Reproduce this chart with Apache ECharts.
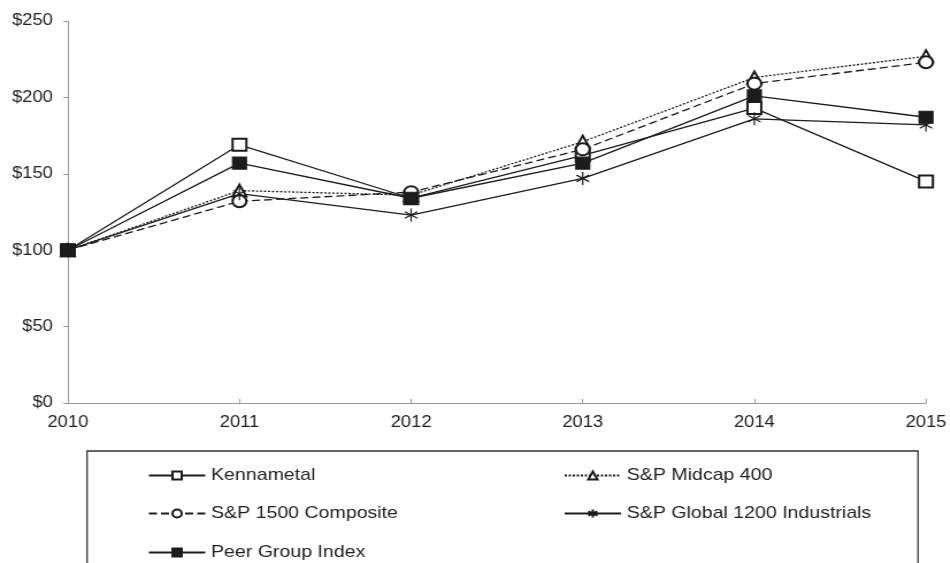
<!DOCTYPE html>
<html>
<head>
<meta charset="utf-8">
<script src="https://cdn.jsdelivr.net/npm/echarts@6/dist/echarts.min.js"></script>
<style>
html,body{margin:0;padding:0;background:#fff;overflow:hidden;}
#chart{width:826px;height:563px;transform:scaleX(1.15);transform-origin:0 0;}
</style>
</head>
<body>
<div id="chart"></div>
<script>
// ---- data ----
const years = ['2010', '2011', '2012', '2013', '2014', '2015'];
const kennametal = [100, 169, 134, 162, 193, 145];
const midcap400 = [100, 139, 136, 171, 213, 227];
const sp1500 = [100, 132, 138, 166, 209, 223];
const global1200 = [100, 137, 123, 147, 186, 182];
const peerGroup = [100, 157, 134, 157, 201, 187];
const seriesNames = ['Kennametal', 'S&P Midcap 400', 'S&P 1500 Composite', 'S&P Global 1200 Industrials', 'Peer Group Index'];

const ink = '#1c1c1c';
const font = "'Liberation Sans', Arial, sans-serif";
const asterisk = 'path://M6,0L6,12M1,3L11,9M1,9L11,3';

function mk(name, data, symbol, lineType, size) {
  return {
    name: name, type: 'line', data: data,
    symbol: symbol, symbolSize: size, symbolKeepAspect: true,
    showAllSymbol: true,
    lineStyle: {color: ink, width: 1.3, type: lineType},
    itemStyle: {color: ink, borderColor: ink, borderWidth: 1.2},
    emphasis: {disabled: true},
    animation: false
  };
}

function lg(name, left, top) {
  return {
    data: [name], left: left, top: top,
    itemWidth: 49, itemHeight: 10,
    selectedMode: false,
    textStyle: {fontSize: 17, color: '#222', fontFamily: font}
  };
}

const chart = echarts.init(document.getElementById('chart'));
chart.setOption({
  backgroundColor: '#fff',
  animation: false,
  grid: {left: 59, top: 21, width: 748, height: 382, containLabel: false},
  xAxis: {
    type: 'category', data: years, boundaryGap: false,
    axisLine: {lineStyle: {color: '#9a9a9a', width: 1}},
    axisTick: {inside: true, length: 4, lineStyle: {color: '#9a9a9a'}},
    axisLabel: {fontSize: 16, color: '#222', fontFamily: font, margin: 12}
  },
  yAxis: {
    type: 'value', min: 0, max: 250, interval: 50,
    axisLine: {show: true, lineStyle: {color: '#9a9a9a', width: 1}},
    axisTick: {show: true, length: 4, lineStyle: {color: '#9a9a9a'}},
    splitLine: {show: false},
    axisLabel: {fontSize: 16, color: '#222', fontFamily: font, margin: 13, formatter: v => '$' + v}
  },
  legend: [
    lg(seriesNames[0], 123.5, 462),
    lg(seriesNames[1], 485, 462),
    lg(seriesNames[2], 123.5, 500),
    lg(seriesNames[3], 485, 500),
    lg(seriesNames[4], 123.5, 539)
  ],
  graphic: [{
    type: 'rect', silent: true,
    shape: {x: 75.7, y: 451, width: 722.6, height: 150},
    style: {fill: 'none', stroke: '#333', lineWidth: 1.3}
  }],
  series: [
    mk(seriesNames[0], kennametal, 'emptyRect', 'solid', 12),
    mk(seriesNames[1], midcap400, 'emptyTriangle', [2, 1.5], 12),
    mk(seriesNames[2], sp1500, 'emptyCircle', [7, 3.5], 12),
    mk(seriesNames[3], global1200, asterisk, 'solid', 13),
    mk(seriesNames[4], peerGroup, 'rect', 'solid', 12)
  ]
});
</script>
</body>
</html>
